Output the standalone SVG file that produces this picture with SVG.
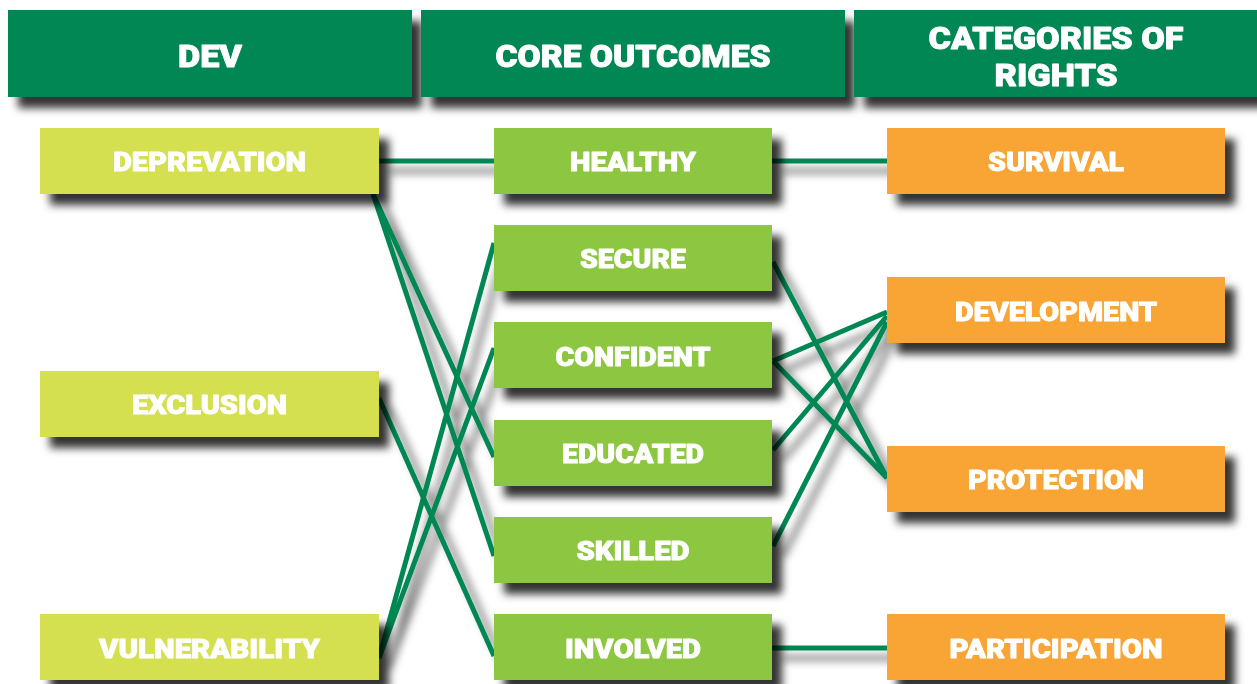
<svg xmlns="http://www.w3.org/2000/svg" width="1257" height="684" viewBox="0 0 1257 684">
  <defs>
    <filter id="shadow" x="-20%" y="-20%" width="150%" height="160%">
      <feGaussianBlur in="SourceAlpha" stdDeviation="4"/>
      <feOffset dx="10" dy="11" result="b"/>
      <feFlood flood-color="#000" flood-opacity="0.8"/>
      <feComposite in2="b" operator="in" result="s"/>
      <feMerge><feMergeNode in="s"/><feMergeNode in="SourceGraphic"/></feMerge>
    </filter>
    <filter id="lineshadow" x="-20%" y="-20%" width="150%" height="150%">
      <feGaussianBlur in="SourceAlpha" stdDeviation="4"/>
      <feOffset dx="10" dy="10" result="b"/>
      <feFlood flood-color="#000" flood-opacity="0.55"/>
      <feComposite in2="b" operator="in" result="s"/>
      <feMerge><feMergeNode in="s"/><feMergeNode in="SourceGraphic"/></feMerge>
    </filter>
  </defs>
  <style>
    .hdr { fill: #008752; }
    .dev { fill: #d4e04f; }
    .core { fill: #8dc63f; }
    .right { fill: #f8a534; }
    text { font-family: Roboto, "DejaVu Sans", "Liberation Sans", sans-serif; font-weight: 900; fill: #fff; stroke: #fff; stroke-width: 0.9; stroke-linejoin: round; text-anchor: middle; }
    .h { font-size: 32px; }
    .l { font-size: 26px; }
    .conn line { stroke: #008752; stroke-width: 5; }
  </style>
  <rect width="1257" height="684" fill="#fff"/>

  <!-- connectors, drawn under the boxes -->
  <g id="connectors" class="conn" filter="url(#lineshadow)">
    <line x1="379" y1="161" x2="494" y2="161"/>
    <line x1="772" y1="161" x2="887" y2="161"/>
    <line x1="373" y1="194" x2="494" y2="457"/>
    <line x1="373" y1="194" x2="494" y2="556"/>
    <line x1="379" y1="398" x2="494" y2="656"/>
    <line x1="379" y1="658" x2="494" y2="243"/>
    <line x1="379" y1="658" x2="494" y2="348"/>
    <line x1="773" y1="262" x2="887" y2="478"/>
    <line x1="773" y1="361" x2="887" y2="312"/>
    <line x1="773" y1="361" x2="887" y2="478"/>
    <line x1="773" y1="450" x2="887" y2="316"/>
    <line x1="773" y1="546" x2="887" y2="322"/>
    <line x1="772" y1="648" x2="887" y2="648"/>
  </g>

  <!-- column headers -->
  <g id="hdr-dev" filter="url(#shadow)">
    <rect class="hdr" x="8" y="10" width="404" height="87"/>
    <text class="h" x="210" y="67" textLength="64" lengthAdjust="spacingAndGlyphs">DEV</text>
  </g>
  <g id="hdr-core" filter="url(#shadow)">
    <rect class="hdr" x="421" y="10" width="424" height="87"/>
    <text class="h" x="633" y="67" textLength="275" lengthAdjust="spacingAndGlyphs">CORE OUTCOMES</text>
  </g>
  <g id="hdr-rights" filter="url(#shadow)">
    <rect class="hdr" x="854" y="10" width="410" height="87"/>
    <text class="h" x="1056" y="49" textLength="255" lengthAdjust="spacingAndGlyphs">CATEGORIES OF</text>
    <text class="h" x="1056" y="86" textLength="123" lengthAdjust="spacingAndGlyphs">RIGHTS</text>
  </g>

  <!-- DEV column -->
  <g id="deprevation" filter="url(#shadow)">
    <rect class="dev" x="40" y="128" width="339" height="66"/>
    <text class="l" x="209.5" y="171" textLength="193" lengthAdjust="spacingAndGlyphs">DEPREVATION</text>
  </g>
  <g id="exclusion" filter="url(#shadow)">
    <rect class="dev" x="40" y="371" width="339" height="66"/>
    <text class="l" x="209.5" y="414" textLength="155" lengthAdjust="spacingAndGlyphs">EXCLUSION</text>
  </g>
  <g id="vulnerability" filter="url(#shadow)">
    <rect class="dev" x="40" y="614" width="339" height="66"/>
    <text class="l" x="209.5" y="658" textLength="221" lengthAdjust="spacingAndGlyphs">VULNERABILITY</text>
  </g>

  <!-- core outcomes column -->
  <g id="healthy" filter="url(#shadow)">
    <rect class="core" x="494" y="128" width="278" height="66"/>
    <text class="l" x="633" y="171" textLength="126" lengthAdjust="spacingAndGlyphs">HEALTHY</text>
  </g>
  <g id="secure" filter="url(#shadow)">
    <rect class="core" x="494" y="225" width="278" height="66"/>
    <text class="l" x="633" y="268" textLength="106" lengthAdjust="spacingAndGlyphs">SECURE</text>
  </g>
  <g id="confident" filter="url(#shadow)">
    <rect class="core" x="494" y="322" width="278" height="66"/>
    <text class="l" x="633" y="366" textLength="155" lengthAdjust="spacingAndGlyphs">CONFIDENT</text>
  </g>
  <g id="educated" filter="url(#shadow)">
    <rect class="core" x="494" y="420" width="278" height="66"/>
    <text class="l" x="633" y="463" textLength="142" lengthAdjust="spacingAndGlyphs">EDUCATED</text>
  </g>
  <g id="skilled" filter="url(#shadow)">
    <rect class="core" x="494" y="517" width="278" height="66"/>
    <text class="l" x="633" y="560" textLength="113" lengthAdjust="spacingAndGlyphs">SKILLED</text>
  </g>
  <g id="involved" filter="url(#shadow)">
    <rect class="core" x="494" y="614" width="278" height="66"/>
    <text class="l" x="633" y="658" textLength="136" lengthAdjust="spacingAndGlyphs">INVOLVED</text>
  </g>

  <!-- categories of rights column -->
  <g id="survival" filter="url(#shadow)">
    <rect class="right" x="887" y="128" width="338" height="66"/>
    <text class="l" x="1056" y="171" textLength="136" lengthAdjust="spacingAndGlyphs">SURVIVAL</text>
  </g>
  <g id="development" filter="url(#shadow)">
    <rect class="right" x="887" y="277" width="338" height="66"/>
    <text class="l" x="1056" y="321" textLength="202" lengthAdjust="spacingAndGlyphs">DEVELOPMENT</text>
  </g>
  <g id="protection" filter="url(#shadow)">
    <rect class="right" x="887" y="446" width="338" height="66"/>
    <text class="l" x="1056" y="489" textLength="176" lengthAdjust="spacingAndGlyphs">PROTECTION</text>
  </g>
  <g id="participation" filter="url(#shadow)">
    <rect class="right" x="887" y="614" width="338" height="66"/>
    <text class="l" x="1056" y="658" textLength="213" lengthAdjust="spacingAndGlyphs">PARTICIPATION</text>
  </g>
</svg>
